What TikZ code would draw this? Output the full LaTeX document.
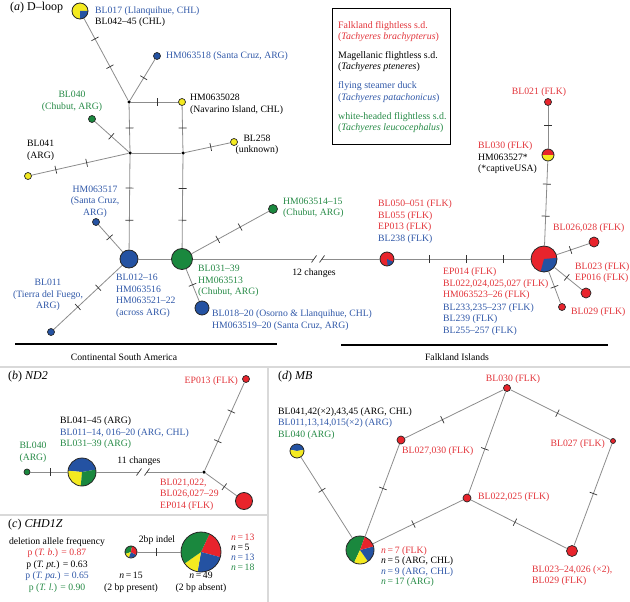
\documentclass[tikz,border=0pt]{standalone}
\usepackage{fontspec}
\setmainfont{Liberation Serif}
\usetikzlibrary{decorations.markings}
\definecolor{hred}{RGB}{232,36,44}
\definecolor{hblue}{RGB}{36,82,162}
\definecolor{hgreen}{RGB}{26,136,62}
\definecolor{hyellow}{RGB}{244,234,32}
\definecolor{tred}{RGB}{226,52,58}
\definecolor{tblue}{RGB}{48,88,168}
\definecolor{tgreen}{RGB}{38,138,70}
\def\pieslice[#1](#2)(#3:#4:#5){\fill[#1] (#2) -- ++(#3:#5) arc (#3:#4:#5) -- cycle;}
\newcommand\lfont{\fontsize{9.7}{11.5}\selectfont}
\newcommand\tfont{\fontsize{12}{14}\selectfont}
\newcommand\gfont{\fontsize{9.9}{11.5}\selectfont}
\tikzset{
  hap/.style={circle, draw=black!85, line width=0.7pt, inner sep=0pt, minimum size=#1},
  jn/.style={circle, fill=black, inner sep=0pt, minimum size=3.5pt},
  link/.style={draw=black!45, line width=0.8pt},
  tk/.style={postaction={decorate, decoration={markings,
      mark=at position #1 with {\draw[black!80, line width=0.7pt] (0,-4) -- (0,4);}}}},
  slash/.style={draw=black!80, line width=0.7pt},
  lbl/.style={font=\lfont, inner sep=0pt, align=left, anchor=west},
  sep/.style={draw=black!15, line width=1.5pt}
}
\begin{document}
\begin{tikzpicture}[x=1pt, y=1pt]
		\useasboundingbox (0,0) rectangle (630,-602);
		%%%%% FRAMES %%%%%
		\draw[sep] (0,-367) -- (630,-367);
		\draw[sep] (268,-367) -- (268,-602);
		\draw[sep] (0,-515) -- (268,-515);
		\draw[line width=1.2pt] (15,-344) -- (277,-344);
		\draw[line width=1.2pt] (341,-345) -- (608,-345);
		\draw[line width=1pt] (332,-9) rectangle (450,-144);
		
		%%%%% (a) D-loop %%%%%
		\coordinate (p1) at (80,-11);
		\fill[hyellow] (p1) circle (8);
		\pieslice[hblue](p1)(-90:0:8)
		\node[hap=16, thick] (n1) at (p1) {};
		
		\node[jn] (j1) at (129,-102) {};
		\node[jn] (j2) at (130,-153) {};
		\node[jn] (j3) at (183,-153) {};
		\node[hap=7, fill=hblue] (n2) at (157,-56) {};
		\node[hap=7, fill=hyellow] (n3) at (182,-102) {};
		\node[hap=7, fill=hyellow] (n4) at (234,-142) {};
		\node[hap=7, fill=hgreen] (n5) at (92,-119) {};
		\node[hap=7, fill=hyellow] (n6) at (28,-176) {};
		\node[hap=7, fill=hblue] (n7) at (96,-222) {};
		\node[hap=18, fill=hblue, thick] (n8) at (129,-259) {};
		\node[hap=21, fill=hgreen, thick] (n9) at (182,-259) {};
		\node[hap=9, fill=hgreen] (n10) at (273,-209) {};
		\node[hap=14, fill=hblue, thick] (n11) at (202,-308) {};
		\node[hap=7, fill=hblue] (n12) at (51,-332) {};
		
		\coordinate (p13) at (387,-259);
		\fill[hred] (p13) circle (7);
		\pieslice[hblue](p13)(-85:-25:7)
		\node[hap=14, thick] (n13) at (p13) {};
		
		\coordinate (p14) at (544,-259);
		\fill[hred] (p14) circle (13);
		\pieslice[hblue](p14)(-105:5:13)
		\node[hap=26, thick] (n14) at (p14) {};
		
		\coordinate (p15) at (548,-155);
		\pieslice[hred](p15)(0:180:6)
		\pieslice[hyellow](p15)(180:360:6)
		\node[hap=12, thick] (n15) at (p15) {};
		
		\node[hap=7, fill=hred] (n16) at (548,-102) {};
		\node[hap=10, fill=hred] (n17) at (594,-242) {};
		\node[hap=10, fill=hred] (n18) at (586,-293) {};
		\node[hap=7, fill=hred] (n19) at (562,-307) {};
		
		\draw[link, tk=0.25, tk=0.59] (n1) -- (j1);
		\draw[link, tk=0.55] (j1) -- (n2);
		\draw[link, tk=0.55] (j1) -- (n3);
		\draw[link, tk=0.51] (j1) -- (j2);
		\draw[link, tk=0.49] (n3) -- (j3);
		\draw[link] (j2) -- (j3);
		\draw[link, tk=0.57] (j3) -- (n4);
		\draw[link, tk=0.49] (n5) -- (j2);
		\draw[link, tk=0.25, tk=0.57] (n6) -- (j2);
		\draw[link, tk=0.35, tk=0.69] (j2) -- (n8);
		\draw[link, tk=0.36, tk=0.70] (j3) -- (n9);
		\draw[link, tk=0.46] (n7) -- (n8);
		\draw[link] (n8) -- (n9);
		\draw[link, tk=0.34, tk=0.63] (n9) -- (n10);
		\draw[link, tk=0.49] (n9) -- (n11);
		\draw[link, tk=0.35, tk=0.65] (n8) -- (n12);
		\coordinate (b1) at (314,-259);
		\coordinate (b2) at (322,-259);
		\draw[link] (n9) -- (b1);
		\draw[link] (b2) -- (n13);
		\draw[slash] (b1) ++(-2.5,-3.5) -- ++(5,7);
		\draw[slash] (b2) ++(-2.5,-3.5) -- ++(5,7);
		\draw[link, tk=0.26, tk=0.53, tk=0.80] (n13) -- (n14);
		\draw[link, tk=0.45] (n16) -- (n15);
		\draw[link, tk=0.27, tk=0.65] (n15) -- (n14);
		\draw[link, tk=0.43] (n14) -- (n17);
		\draw[link, tk=0.45] (n14) -- (n18);
		\draw[link, tk=0.48] (n14) -- (n19);
		
		\node[lbl, font=\tfont] (ta) at (10,-8) {(\textit{a}) D–loop};
		\node[lbl] (l1) at (95,-16.5) {\textcolor{tblue}{BL017 (Llanquihue, CHL)}\\BL042–45 (CHL)};
		\node[lbl, text=tblue] (l2) at (166,-56) {HM063518 (Santa Cruz, ARG)};
		\node[lbl] (l3) at (190,-104.5) {HM0635028\\(Navarino Island, CHL)};
		\node[lbl, align=center, anchor=center] (l4) at (257,-145) {BL258\\(unknown)};
		\node[lbl, align=center, anchor=center, text=tgreen] (l5) at (72,-101.5) {BL040\\(Chubut, ARG)};
		\node[lbl] (l6) at (27,-150.5) {BL041\\(ARG)};
		\node[lbl, align=center, anchor=center, text=tblue] (l7) at (95,-201.5) {HM063517\\(Santa Cruz,\\ARG)};
		\node[lbl, text=tblue] (l8) at (116,-296) {BL012–16\\HM063516\\HM063521–22\\(across ARG)};
		\node[lbl, text=tgreen] (l9) at (198,-281) {BL031–39\\HM063513\\(Chubut, ARG)};
		\node[lbl, text=tgreen] (l10) at (283,-208) {HM063514–15\\(Chubut, ARG)};
		\node[lbl, text=tblue] (l11) at (212,-320) {BL018–20 (Osorno \& Llanquihue, CHL)\\HM063519–20 (Santa Cruz, ARG)};
		\node[lbl, align=center, anchor=center, text=tblue] (l12) at (48,-295) {BL011\\(Tierra del Fuego,\\ARG)};
		\node[lbl, anchor=center] (ch12) at (314,-273) {12 changes};
		\node[lbl, text=tred] (l13) at (378,-221.5) {BL050–051 (FLK)\\BL055 (FLK)\\EP013 (FLK)\\\textcolor{tblue}{BL238 (FLK)}};
		\node[lbl, text=tred] (l14) at (443,-301.5) {EP014 (FLK)\\BL022,024,025,027 (FLK)\\HM063523–26 (FLK)\\[1pt]
			\textcolor{tblue}{BL233,235–237 (FLK)}\\\textcolor{tblue}{BL239 (FLK)}\\\textcolor{tblue}{BL255–257 (FLK)}};
		\node[lbl] (l15) at (478,-158) {\textcolor{tred}{BL030 (FLK)}\\HM063527*\\(*captiveUSA)};
		\node[lbl, anchor=center, text=tred] (l16) at (539,-92) {BL021 (FLK)};
		\node[lbl, text=tred] (l17) at (553,-228) {BL026,028 (FLK)};
		\node[lbl, text=tred] (l18) at (575,-272.5) {BL023 (FLK)\\EP016 (FLK)};
		\node[lbl, text=tred] (l19) at (571,-312) {BL029 (FLK)};
		\node[lbl, anchor=center] (csa) at (124,-357) {Continental South America};
		\node[lbl, anchor=center] (fi) at (457,-357) {Falkland Islands};
		
		% legend
		\node[lbl, font=\gfont, text=tred] (lg1) at (338,-31.5) {Falkland flightless s.d.\\(\textit{Tachyeres brachypterus})};
		\node[lbl, font=\gfont] (lg2) at (338,-61.5) {Magellanic flightless s.d.\\(\textit{Tachyeres pteneres})};
		\node[lbl, font=\gfont, text=tblue] (lg3) at (338,-92) {flying steamer duck\\(\textit{Tachyeres patachonicus})};
		\node[lbl, font=\gfont, text=tgreen] (lg4) at (338,-122.5) {white-headed flightless s.d.\\(\textit{Tachyeres leucocephalus})};
		
		%%%%% (b) ND2 %%%%%
		\coordinate (pb) at (82,-472);
		\pieslice[hblue](pb)(10:175:14)
		\pieslice[hyellow](pb)(175:265:14)
		\pieslice[hgreen](pb)(265:370:14)
		\node[hap=28, thick] (nb) at (pb) {};
		\node[hap=7, fill=hred] (e13) at (246,-379) {};
		\node[jn] (jb) at (204,-472) {};
		\node[hap=17, fill=hred, thick] (rb) at (244,-501) {};
		\node[hap=6, fill=hgreen] (gb) at (27,-472) {};
		
		\draw[link, tk=0.33, tk=0.67] (jb) -- (e13);
		\draw[link, tk=0.6] (jb) -- (rb);
		\draw[link, tk=0.53] (gb) -- (nb);
		\coordinate (b3) at (139,-472);
		\coordinate (b4) at (147,-472);
		\draw[link] (nb) -- (b3);
		\draw[link] (b4) -- (jb);
		\draw[slash] (b3) ++(-2.5,-3.5) -- ++(5,7);
		\draw[slash] (b4) ++(-2.5,-3.5) -- ++(5,7);
		
		\node[lbl, font=\tfont] (tb) at (8,-377) {(\textit{b}) \textit{ND2}};
		\node[lbl, anchor=east, text=tred] (le13) at (238,-381) {EP013 (FLK)};
		\node[lbl] (lnb) at (60,-433) {BL041–45 (ARG)\\\textcolor{tblue}{BL011–14, 016–20 (ARG, CHL)}\\\textcolor{tgreen}{BL031–39 (ARG)}};
		\node[lbl, align=center, anchor=center, text=tgreen] (lgb) at (33,-452.5) {BL040\\(ARG)};
		\node[lbl, anchor=center] (ch11) at (139,-461) {11 changes};
		\node[lbl, text=tred] (lrb) at (160,-494.5) {BL021,022,\\BL026,027–29\\EP014 (FLK)};
		
		%%%%% (c) CHD1Z %%%%%
		\coordinate (pc1) at (131,-552);
		\pieslice[hgreen](pc1)(80:200:6)
		\pieslice[hyellow](pc1)(200:250:6)
		\pieslice[hblue](pc1)(250:330:6)
		\pieslice[hred](pc1)(330:440:6)
		\node[hap=12, thick] (sc) at (pc1) {};
		\coordinate (pc2) at (201,-552);
		\pieslice[hred](pc2)(-15:65:20)
		\pieslice[hblue](pc2)(-100:-15:20)
		\pieslice[hyellow](pc2)(-145:-100:20)
		\pieslice[hgreen](pc2)(65:215:20)
		\node[hap=40, thick] (bc) at (pc2) {};
		\draw[link, tk=0.45] (sc) -- (bc);
		
		\node[lbl, font=\tfont] (tc) at (8,-525) {(\textit{c}) \textit{CHD1Z}};
		\node[lbl, align=center, anchor=center] (freq) at (57,-565) {deletion allele frequency\\
			\textcolor{tred}{p (\textit{T. b.}) = 0.87}\\p (\textit{T. pt.}) = 0.63\\
			\textcolor{tblue}{p (\textit{T. pa.}) = 0.65}\\\textcolor{tgreen}{p (\textit{T. l.}) = 0.90}};
		\node[lbl, anchor=center] (indel) at (157,-540) {2bp indel};
		\node[lbl, align=center, anchor=center] (lsc) at (131,-582.5) {\textit{n}\,=\,15\\(2 bp present)};
		\node[lbl, align=center, anchor=center] (lbc) at (201,-582.5) {\textit{n}\,=\,49\\(2 bp absent)};
		\node[lbl, font=\fontsize{9.7}{9.8}\selectfont] (ncount) at (231,-552.5) {\textcolor{tred}{\textit{n}\,=\,13}\\\textit{n}\,=\,5\\
			\textcolor{tblue}{\textit{n}\,=\,13}\\\textcolor{tgreen}{\textit{n}\,=\,18}};
		
		%%%%% (d) MB %%%%%
		\coordinate (pf) at (360,-550);
		\pieslice[hgreen](pf)(70:245:14)
		\pieslice[hyellow](pf)(245:305:14)
		\pieslice[hblue](pf)(305:375:14)
		\pieslice[hred](pf)(15:70:14)
		\node[hap=28, thick] (mf) at (pf) {};
		\coordinate (pg) at (297,-451);
		\pieslice[hblue](pg)(10:170:7)
		\pieslice[hyellow](pg)(170:370:7)
		\node[hap=14, thick] (mg) at (pg) {};
		\node[hap=7, fill=hred] (ma) at (507,-388) {};
		\node[hap=8, fill=hred] (mb) at (401,-440) {};
		\node[hap=8, fill=hred] (mc) at (467,-498) {};
		\node[hap=5, fill=hred] (md) at (613,-441) {};
		\node[hap=11, fill=hred] (me) at (572,-551) {};
		
		\draw[link, tk=0.41] (mg) -- (mf);
		\draw[link, tk=0.52] (mf) -- (mb);
		\draw[link, tk=0.38] (mb) -- (ma);
		\draw[link, tk=0.56] (ma) -- (mc);
		\draw[link, tk=0.47] (ma) -- (md);
		\draw[link, tk=0.45] (mf) -- (mc);
		\draw[link, tk=0.46] (mc) -- (me);
		\draw[link, tk=0.49] (md) -- (me);
		
		\node[lbl, font=\tfont] (td) at (278,-377) {(\textit{d}) \textit{MB}};
		\node[lbl, anchor=center, text=tred] (lma) at (513,-379) {BL030 (FLK)};
		\node[lbl, text=tred] (lmb) at (402,-451) {BL027,030 (FLK)};
		\node[lbl, text=tred] (lmc) at (478,-497) {BL022,025 (FLK)};
		\node[lbl, anchor=east, text=tred] (lmd) at (605,-444) {BL027 (FLK)};
		\node[lbl, text=tred] (lme) at (532,-575.5) {BL023–24,026 (×2),\\BL029 (FLK)};
		\node[lbl, font=\fontsize{9.7}{10.5}\selectfont] (lmf) at (381,-566.5) {\textcolor{tred}{\textit{n}\,=\,7 (FLK)}\\\textit{n}\,=\,5 (ARG, CHL)\\
			\textcolor{tblue}{\textit{n}\,=\,9 (ARG, CHL)}\\\textcolor{tgreen}{\textit{n}\,=\,17 (ARG)}};
		\node[lbl] (lmg) at (278,-423.5) {BL041,42(×2),43,45 (ARG, CHL)\\\textcolor{tblue}{BL011,13,14,015(×2) (ARG)}\\\textcolor{tgreen}{BL040 (ARG)}};
\end{tikzpicture}
\end{document}
